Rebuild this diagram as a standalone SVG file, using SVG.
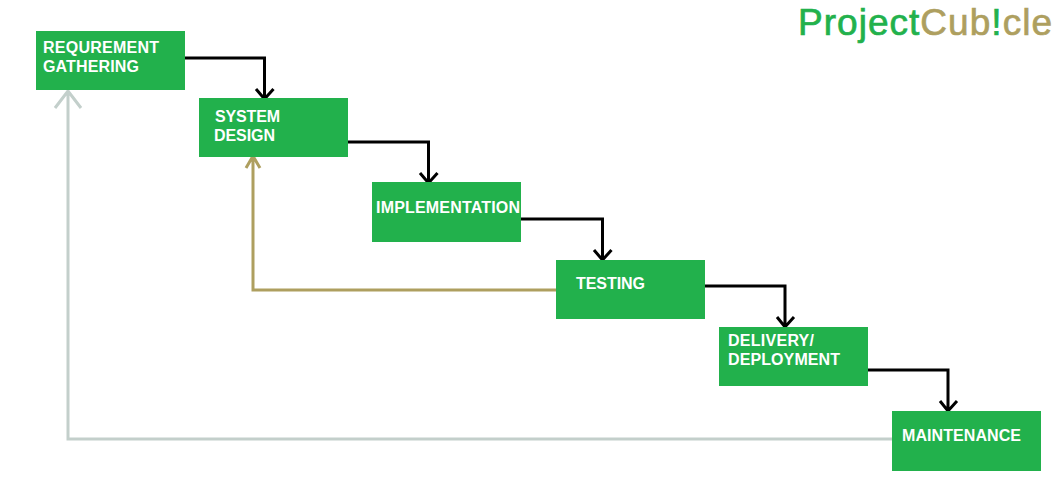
<svg xmlns="http://www.w3.org/2000/svg" width="1056" height="480" viewBox="0 0 1056 480">
<style>
.box{fill:#22b14c}
.t{font-family:"Liberation Sans",Arial,sans-serif;font-size:16px;font-weight:bold;fill:#fff}
.c{fill:none;stroke-width:3}
.k{stroke:#000}
.g{stroke:#c3cfcb}
.o{stroke:#ae9f5f}
.logo{font-family:"Liberation Sans",Arial,sans-serif;font-size:37px;stroke-width:.7}
.lg{fill:#22b14c;stroke:#22b14c}
.lo{fill:#ae9f5f;stroke:#ae9f5f}
</style>
<rect width="1056" height="480" fill="#fff"/>
<g id="logo"><text class="logo" x="798" y="35" textLength="254" lengthAdjust="spacing"><tspan class="lg">Project</tspan><tspan class="lo">Cub</tspan><tspan class="lg">!</tspan><tspan class="lo">cle</tspan></text></g>
<g id="connectors">
<path class="c k" d="M185 58H264.500V98M256 89l8.500 10 9-10"/>
<path class="c k" d="M348 142H428.500V182M420 173l8.500 10 9-10"/>
<path class="c k" d="M521 219H602.500V259M594 250l8.500 10 9-10"/>
<path class="c k" d="M704 286H785V326M777 317l8 10 9-10"/>
<path class="c k" d="M868 370H948V410M940 401l8 10 9-10"/>
<path class="c o" d="M556 290H253V156M246 168l7-12 7 12"/>
<path class="c g" d="M892 439H68V91M55 108l13-17 13 17"/>
</g>
<g id="requirement"><rect class="box" x="36" y="31" width="149" height="59"/><text class="t" x="43" y="53" textLength="116">REQUREMENT</text><text class="t" x="43" y="72" textLength="96">GATHERING</text></g>
<g id="design"><rect class="box" x="199" y="98" width="149" height="59"/><text class="t" x="215" y="122" textLength="65">SYSTEM</text><text class="t" x="214" y="141" textLength="61">DESIGN</text></g>
<g id="implementation"><rect class="box" x="372" y="182" width="149" height="60"/><text class="t" x="376" y="213" textLength="144">IMPLEMENTATION</text></g>
<g id="testing"><rect class="box" x="556" y="260" width="149" height="59"/><text class="t" x="576" y="289" textLength="69">TESTING</text></g>
<g id="delivery"><rect class="box" x="719" y="327" width="149" height="59"/><text class="t" x="728" y="346" textLength="86">DELIVERY/</text><text class="t" x="728" y="365" textLength="112">DEPLOYMENT</text></g>
<g id="maintenance"><rect class="box" x="892" y="411" width="149" height="60"/><text class="t" x="902" y="441" textLength="119">MAINTENANCE</text></g>
</svg>
